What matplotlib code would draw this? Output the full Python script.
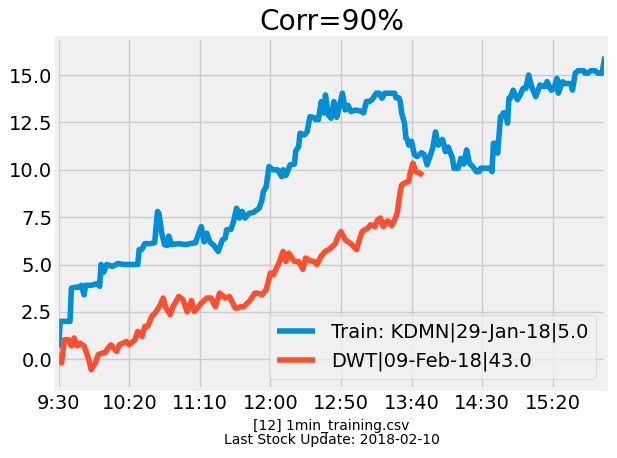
import matplotlib
matplotlib.use("Agg")
import matplotlib.pyplot as plt

# minute index from 9:30 and value
train_min = [0, 1, 8, 9, 12, 15, 16, 18, 19, 23, 28, 29, 30, 31, 32, 34, 38, 42, 46, 50,
             56, 57, 59, 61, 65, 68, 70, 71, 73, 75, 77, 78, 80, 85, 90, 93, 97, 99, 101, 103,
             105, 107, 110, 113, 116, 118, 119, 122, 124, 126, 127, 128, 130, 132, 135, 138, 142, 144, 145, 147,
             149, 150, 152, 155, 156, 158, 159, 161, 164, 167, 168, 170, 171, 174, 176, 178, 181, 182, 184, 186,
             188, 189, 191, 193, 195, 197, 201, 203, 205, 207, 210, 214, 216, 218, 220, 222, 225, 227, 229, 231,
             238, 239, 241, 242, 243, 245, 246, 247, 248, 250, 252, 254, 257, 259, 261, 263, 265, 267, 269, 272,
             274, 276, 279, 280, 283, 285, 287, 289, 291, 293, 296, 298, 299, 306, 307, 308, 309, 311, 313, 314,
             315, 317, 318, 319, 320, 322, 325, 327, 329, 331, 333, 335, 338, 341, 343, 345, 346, 349, 351, 353,
             354, 357, 359, 363, 364, 366, 368, 372, 373, 375, 377, 380, 382, 385, 387]
train_val = [0.6, 2.0, 2.0, 3.75, 3.8, 3.8, 3.9, 3.4, 3.9, 3.9, 4.0, 3.85, 5.0, 4.9, 4.6, 5.0, 4.9, 5.05, 5.0, 5.0,
             5.0, 5.78, 5.8, 6.1, 6.1, 6.15, 7.8, 7.7, 6.65, 6.05, 6.0, 6.5, 6.05, 6.1, 6.05, 6.1, 6.15, 6.6, 7.0, 6.2,
             6.65, 6.2, 6.0, 5.69, 6.3, 6.4, 6.83, 6.85, 7.3, 7.97, 7.8, 7.45, 7.8, 7.45, 7.7, 7.75, 7.97, 8.4, 8.85, 9.1,
             10.17, 10.1, 10.0, 10.0, 9.9, 9.64, 10.0, 9.7, 10.26, 10.3, 11.0, 11.22, 11.93, 11.84, 12.0, 12.8, 12.75, 12.65, 12.65, 13.6,
             13.0, 13.95, 12.9, 12.72, 13.6, 12.77, 14.04, 13.16, 13.4, 13.07, 13.15, 13.1, 13.0, 13.6, 13.6, 13.7, 14.04, 14.04, 13.78, 14.04,
             14.04, 13.8, 13.8, 13.6, 13.0, 12.46, 11.67, 11.6, 11.3, 11.5, 10.8, 10.7, 10.9, 10.8, 10.26, 10.7, 11.14, 12.0, 11.3, 11.6,
             10.96, 11.2, 10.61, 10.08, 10.08, 10.6, 10.3, 11.05, 10.35, 10.2, 9.9, 9.9, 10.08, 10.08, 9.9, 11.4, 11.4, 10.88, 12.8, 12.8,
             13.0, 13.0, 12.46, 13.78, 13.78, 14.2, 13.7, 13.95, 14.3, 14.3, 15.0, 14.4, 13.86, 14.48, 14.4, 14.4, 14.65, 14.2, 14.3, 14.83,
             14.04, 14.65, 14.55, 14.55, 14.2, 15.1, 15.23, 15.23, 15.1, 15.1, 15.23, 15.23, 15.1, 15.1, 15.97]

dwt_min = [0, 2, 4, 7, 9, 11, 13, 15, 18, 21, 23, 26, 28, 31, 33, 35, 37, 41, 43, 48,
           50, 54, 56, 59, 61, 63, 66, 69, 72, 74, 76, 79, 81, 85, 88, 91, 94, 96, 99, 101,
           105, 108, 111, 114, 118, 121, 125, 127, 129, 131, 135, 139, 141, 144, 147, 150, 152, 156, 159, 161,
           163, 167, 170, 173, 175, 178, 181, 183, 186, 189, 192, 196, 198, 200, 203, 207, 211, 213, 215, 219,
           221, 224, 226, 228, 230, 233, 236, 239, 240, 242, 243, 245, 248, 249, 251, 253, 256, 258]
dwt_val = [0.33, -0.2, 1.03, 1.03, 0.7, 1.12, 0.7, 0.85, 0.7, 0.06, -0.55, -0.2, 0.24, 0.33, 0.35, 0.59, 0.76, 0.42, 0.76, 0.94,
           0.76, 1.03, 1.47, 1.2, 1.73, 1.73, 2.26, 2.5, 2.87, 3.23, 2.7, 2.35, 2.78, 3.31, 3.15, 2.5, 3.1, 2.52, 2.77, 2.96,
           3.23, 3.23, 2.77, 3.49, 3.23, 3.31, 2.7, 2.7, 2.77, 2.77, 3.05, 3.49, 3.49, 3.4, 3.67, 4.55, 4.46, 5.07, 5.69, 5.16,
           5.6, 5.16, 5.16, 4.75, 5.34, 5.2, 5.16, 5.0, 5.45, 5.7, 5.82, 6.1, 6.5, 6.74, 6.3, 6.1, 5.78, 6.3, 6.74, 6.92,
           7.1, 7.0, 7.36, 7.45, 7.0, 7.3, 7.05, 7.53, 7.8, 8.85, 9.2, 9.3, 9.38, 9.82, 10.35, 9.9, 9.82, 9.7]

tick_min = [0, 50, 100, 150, 200, 250, 300, 350]
tick_lab = ["9:30", "10:20", "11:10", "12:00", "12:50", "13:40", "14:30", "15:20"]

train_name = "Train: KDMN|29-Jan-18|5.0"
dwt_name = "DWT|09-Feb-18|43.0"

plt.style.use("fivethirtyeight")

fig, ax = plt.subplots(figsize=(6.17, 4.58), dpi=100)
fig.patch.set_facecolor("white")
fig.subplots_adjust(left=0.0924, right=0.982, top=0.9164, bottom=0.1507)

ax.plot(train_min, train_val, label=train_name)
ax.plot(dwt_min, dwt_val, label=dwt_name)

ax.set_xticks(tick_min)
ax.set_xticklabels(tick_lab)
ax.set_xlim(-1.2, 387.7)
ax.set_ylim(-1.57, 16.94)
ax.set_title("Corr=90%")
ax.set_xlabel("[12] 1min_training.csv\nLast Stock Update: 2018-02-10", fontsize=10, linespacing=1.05)
ax.legend(loc="lower right")

fig.savefig("out.png", dpi=100, facecolor="white")
